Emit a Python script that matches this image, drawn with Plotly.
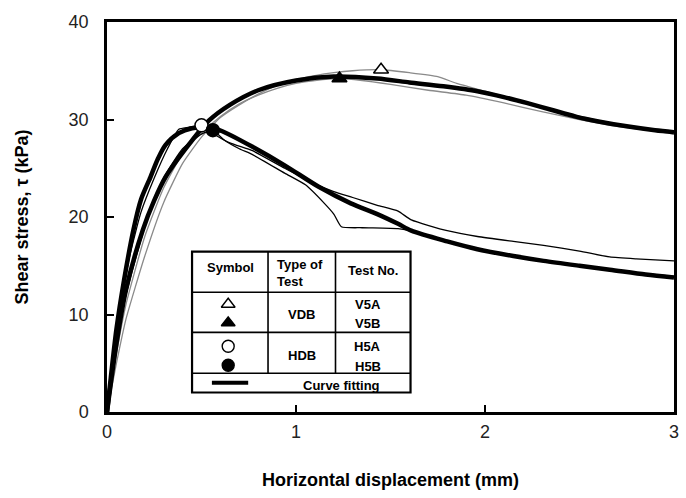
import plotly.graph_objects as go

# ---- Measured curves (horizontal displacement in mm, shear stress in kPa) ----
# VDB tests
v5a_x = [0, 0.05, 0.1, 0.2, 0.3, 0.4, 0.5, 0.6, 0.7, 0.8, 0.9, 1.0, 1.1, 1.2, 1.3,
         1.45, 1.6, 1.75, 1.85, 2.0, 2.2, 2.4, 2.6, 2.8, 3.0]
v5a_y = [0, 5, 9.5, 16, 21.5, 25.5, 28.2, 30.2, 31.5, 32.6, 33.5, 34.1, 34.5, 34.8, 35.0,
         35.1, 34.8, 34.4, 33.7, 32.9, 31.8, 30.8, 29.9, 29.2, 28.6]
v5b_x = [0, 0.05, 0.1, 0.2, 0.3, 0.4, 0.5, 0.6, 0.7, 0.8, 0.9, 1.0, 1.1, 1.23, 1.35,
         1.5, 1.7, 1.9, 2.1, 2.3, 2.5, 2.7, 2.9, 3.0]
v5b_y = [0, 6, 11, 18, 23, 26.5, 28.6, 30.3, 31.6, 32.5, 33.2, 33.7, 34.0, 34.2, 34.0,
         33.6, 33.0, 32.5, 31.7, 30.8, 30.0, 29.3, 28.8, 28.5]

# HDB tests
h5a_x = [0, 0.03, 0.07, 0.12, 0.18, 0.25, 0.32, 0.38, 0.43, 0.5, 0.55, 0.65, 0.77,
         0.94, 1.1, 1.2, 1.3, 1.43, 1.54, 1.61, 1.8, 1.96, 2.15, 2.31, 2.5, 2.66, 2.8, 3.0]
h5a_y = [0, 5, 10.5, 16, 20.5, 24, 27, 29.0, 29.2, 29.4, 28.7, 27.6, 26.8,
         25.0, 23.4, 22.6, 22.0, 21.2, 20.6, 19.7, 18.6, 18.0, 17.5, 17.1, 16.5, 15.9, 15.7, 15.5]
h5b_x = [0, 0.05, 0.1, 0.2, 0.3, 0.4, 0.5, 0.56, 0.62, 0.7, 0.77, 0.94, 1.05, 1.15,
         1.2, 1.24, 1.35, 1.54, 1.6, 1.8, 2.0, 2.3, 2.6, 3.0]
h5b_y = [0, 7, 12, 19, 24, 27, 28.5, 28.9, 27.9, 27.0, 26.4, 24.5, 23.3, 21.4,
         20.3, 19.0, 18.9, 18.8, 18.6, 17.5, 16.6, 15.6, 14.7, 13.9]

# ---- Fitted curves ----
vdb_fit_x = [0, 0.05, 0.1, 0.19, 0.25, 0.31, 0.44, 0.54, 0.65, 0.8, 1.0, 1.2, 1.43,
             1.6, 1.78, 1.96, 2.1, 2.22, 2.35, 2.48, 2.6, 2.75, 2.9, 3.0]
vdb_fit_y = [0, 7, 12.5, 18.7, 21.7, 24.1, 27.6, 29.9, 31.5, 33.0, 34.0, 34.4, 34.2,
             33.8, 33.4, 32.9, 32.3, 31.7, 31.0, 30.3, 29.8, 29.3, 28.9, 28.7]
hdb_fit_x = [0, 0.02, 0.05, 0.09, 0.14, 0.18, 0.23, 0.27, 0.31, 0.38, 0.45, 0.52, 0.58,
             0.61, 0.77, 0.94, 1.12, 1.29, 1.43, 1.54, 1.61, 1.8, 1.96, 2.15, 2.31,
             2.5, 2.66, 2.85, 3.0]
hdb_fit_y = [0, 3.5, 8.5, 13.5, 18.7, 21.8, 24.1, 26.0, 27.4, 28.6, 29.1, 29.2, 29.0,
             28.8, 27.2, 25.3, 23.1, 21.4, 20.3, 19.3, 18.6, 17.5, 16.7, 16.0, 15.5,
             15.0, 14.6, 14.1, 13.8]

# ---- Peak points ----
peak_names = ["V5A", "V5B", "H5A", "H5B"]
peak_x = [1.45, 1.23, 0.50, 0.56]
peak_y = [35.1, 34.2, 29.4, 28.9]
peak_symbols = ["triangle-up", "triangle-up", "circle", "circle"]
peak_fill = ["white", "black", "white", "black"]

# ---- Axis ticks ----
x_ticks = [0, 1, 2, 3]
y_ticks = [0, 10, 20, 30, 40]

FONT = "Liberation Sans, Arial, sans-serif"
GRAY = "#8a8a8a"

fig = go.Figure()

# measured curves (thin)
for xs, ys, col in [(v5a_x, v5a_y, GRAY), (v5b_x, v5b_y, GRAY),
                    (h5a_x, h5a_y, "black"), (h5b_x, h5b_y, "black")]:
    fig.add_trace(go.Scatter(x=xs, y=ys, mode="lines", showlegend=False,
                             line=dict(color=col, width=1.3, shape="spline", smoothing=0.5),
                             hoverinfo="skip"))

# fitted curves (thick)
for xs, ys in [(vdb_fit_x, vdb_fit_y), (hdb_fit_x, hdb_fit_y)]:
    fig.add_trace(go.Scatter(x=xs, y=ys, mode="lines", showlegend=False,
                             line=dict(color="black", width=4.5, shape="spline", smoothing=0.8),
                             hoverinfo="skip"))

# peak markers
for i in range(len(peak_names)):
    fig.add_trace(go.Scatter(x=[peak_x[i]], y=[peak_y[i]], mode="markers", name=peak_names[i],
                             showlegend=False,
                             marker=dict(symbol=peak_symbols[i], size=13, color=peak_fill[i],
                                         line=dict(color="black", width=1.5))))

# ---- Key table (drawn in data space inside the plot) ----
tx0, tx1 = 0.45, 1.606          # table left / right
c1, c2 = 0.852, 1.209           # column dividers
ty_top, ty_bot = 16.44, 2.0     # table top / bottom
r1, r2, r3 = 12.28, 8.17, 3.97  # row dividers

fig.add_shape(type="rect", x0=tx0, x1=tx1, y0=ty_bot, y1=ty_top,
              line=dict(color="black", width=2.2), fillcolor="white", layer="below")
for yy in (r1, r2, r3):
    fig.add_shape(type="line", x0=tx0, x1=tx1, y0=yy, y1=yy,
                  line=dict(color="black", width=1.6), layer="below")
for xx in (c1, c2):
    fig.add_shape(type="line", x0=xx, x1=xx, y0=r3, y1=ty_top,
                  line=dict(color="black", width=1.6), layer="below")

sym_x = 0.6412
key_marks_y = [11.05, 9.15, 6.75, 4.8]
for i in range(4):
    fig.add_trace(go.Scatter(x=[sym_x], y=[key_marks_y[i]], mode="markers", showlegend=False,
                             hoverinfo="skip",
                             marker=dict(symbol=peak_symbols[i], size=12, color=peak_fill[i],
                                         line=dict(color="black", width=1.4))))
fig.add_shape(type="line", x0=0.555, x1=0.747, y0=3.0, y1=3.0,
              line=dict(color="black", width=4), layer="below")

def txt(x, y, s, align="center", xanchor="center"):
    fig.add_annotation(x=x, y=y, text=s, showarrow=False, align=align, xanchor=xanchor,
                       font=dict(family=FONT, size=13, color="black"))

txt(0.651, 14.8, "<b>Symbol</b>")
txt(0.89, 14.3, "<b>Type of<br>Test</b>", align="left", xanchor="left")
txt(1.407, 14.5, "<b>Test No.</b>")
txt(1.03, 9.95, "<b>VDB</b>")
txt(1.38, 11.05, "<b>V5A</b>")
txt(1.38, 9.1, "<b>V5B</b>")
txt(1.03, 5.75, "<b>HDB</b>")
txt(1.38, 6.7, "<b>H5A</b>")
txt(1.38, 4.7, "<b>H5B</b>")
txt(1.24, 2.75, "<b>Curve fitting</b>")

# x-axis title placed below the tick labels
fig.add_annotation(xref="paper", yref="paper", x=0.5, y=-0.175, yanchor="middle",
                   text="<b>Horizontal displacement (mm)</b>", showarrow=False,
                   font=dict(family=FONT, size=18, color="black"))

axis_common = dict(showgrid=False, zeroline=False, showline=True, mirror=True,
                   linecolor="black", linewidth=2.5, ticks="inside", ticklen=7,
                   tickwidth=1.8, tickcolor="black",
                   tickfont=dict(family=FONT, size=18, color="#222"))

fig.update_layout(
    width=686, height=498,
    margin=dict(l=107, r=7, t=22, b=86),
    paper_bgcolor="white", plot_bgcolor="white",
    xaxis=dict(range=[0, 3], tickvals=x_ticks, ticklabelstandoff=2, **axis_common),
    yaxis=dict(range=[0, 40], tickvals=y_ticks, ticklabelstandoff=12,
               title=dict(text="<b>Shear stress, τ (kPa)</b>", standoff=36,
                          font=dict(family=FONT, size=18, color="black")),
               **axis_common),
)

fig.write_html("out.html")
